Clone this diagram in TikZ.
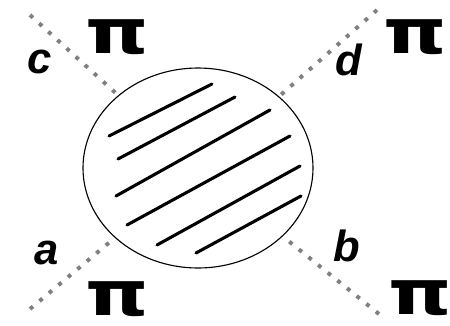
\documentclass[tikz,border=0pt]{standalone}
\usepackage{fontspec}
\setmainfont{Liberation Sans}
\newfontfamily\pifont{DejaVu Sans}
\usetikzlibrary{shapes.geometric}

\begin{document}
\begin{tikzpicture}[
  x=0.025cm, y=-0.025cm,
  pion/.style={draw=gray, line width=2.8pt, dash pattern=on 2.8pt off 6pt},
  hatch/.style={line width=2.2pt, line cap=round},
  lbl/.style={font=\fontsize{31}{31}\selectfont\bfseries\itshape, inner sep=0pt},
  pisym/.style={font=\pifont\fontsize{44}{44}\selectfont\bfseries, inner sep=0pt, xscale=1.3},
]
\useasboundingbox (0,0) rectangle (450,325);
\node[draw, thick, ellipse, minimum width=230*0.025cm, minimum height=200*0.025cm] (blob) at (198,168) {};
% external legs
\coordinate (c) at (30,15);
\coordinate (d) at (377,10);
\coordinate (a) at (30,309);
\coordinate (b) at (379,314);
\draw[pion] (c) -- (blob);
\draw[pion] (d) -- (blob);
\draw[pion] (a) -- (blob);
\draw[pion] (b) -- (blob);
% hatching
\foreach \xa/\ya/\xb/\yb in {109/136/212/84, 118/159/235/97, 116/196/270/110,
                   127/225/290/136, 157/245/300/166, 196/253/301/196}
  \draw[hatch] (\xa,\ya) -- (\xb,\yb);
\node[lbl] (lc) at (40,62) {c};
\node[lbl] (ld) at (349,60) {d};
\node[lbl] (la) at (47,253) {a};
\node[lbl] (lb) at (347,246) {b};
\node[pisym] (pc) at (117,37) {π};
\node[pisym] (pd) at (415,37) {π};
\node[pisym] (pa) at (117,299) {π};
\node[pisym] (pb) at (420,298) {π};
\end{tikzpicture}
\end{document}
